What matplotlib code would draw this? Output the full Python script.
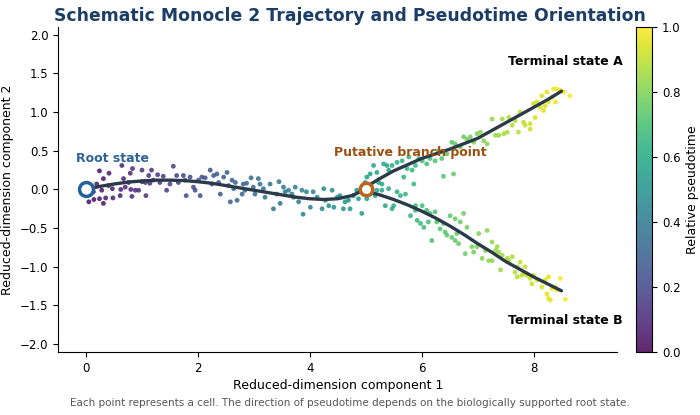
import numpy as np
import matplotlib.pyplot as plt

# cells along the trunk: (component 1, component 2, pseudotime)
trunk_cells = [
    (0.24, 0.24, 0.05), (0.41, 0.21, 0.06), (0.31, 0.14, 0.05), (0.19, 0.07, 0.04),
    (0.13, -0.03, 0.03), (0.28, -0.01, 0.05), (0.14, -0.13, 0.03), (0.24, -0.12, 0.05),
    (0.05, -0.16, 0.03), (0.31, -0.18, 0.05), (0.35, -0.11, 0.06), (0.48, -0.11, 0.07),
    (0.47, 0.01, 0.07), (0.64, 0.31, 0.09), (0.79, 0.21, 0.10), (0.83, 0.27, 0.11),
    (0.67, 0.14, 0.09), (0.76, 0.09, 0.10), (0.62, 0.00, 0.09), (0.70, 0.03, 0.09),
    (0.80, 0.00, 0.10), (0.88, -0.01, 0.11), (0.94, -0.01, 0.12), (0.82, -0.09, 0.11),
    (1.00, 0.25, 0.13), (1.12, 0.18, 0.14), (1.17, 0.25, 0.14), (1.06, 0.09, 0.13),
    (1.14, 0.08, 0.14), (1.07, -0.08, 0.13), (1.28, 0.19, 0.15), (1.32, 0.09, 0.16),
    (1.38, 0.17, 0.16), (1.44, -0.01, 0.17), (1.50, 0.07, 0.18), (1.56, 0.30, 0.18),
    (1.62, 0.18, 0.19), (1.65, 0.09, 0.19), (1.74, 0.18, 0.20), (1.77, 0.12, 0.21),
    (1.79, -0.08, 0.21), (1.86, 0.16, 0.22), (1.92, 0.03, 0.22), (1.95, -0.01, 0.22),
    (2.01, 0.12, 0.23), (2.07, 0.16, 0.24), (2.13, 0.15, 0.24), (2.04, -0.08, 0.23),
    (2.22, 0.25, 0.25), (2.28, 0.18, 0.26), (2.34, 0.20, 0.27), (2.25, 0.07, 0.26),
    (2.37, 0.09, 0.27), (2.40, -0.06, 0.27), (2.46, 0.16, 0.28), (2.52, 0.22, 0.28),
    (2.55, 0.05, 0.29), (2.58, -0.16, 0.29), (0.61, -0.08, 0.08), (1.20, 0.12, 0.15),
    (1.00, 0.10, 0.13), (0.40, 0.05, 0.06),
    (2.61, 0.12, 0.29), (2.67, 0.09, 0.30), (2.64, 0.01, 0.30), (2.70, -0.14, 0.30),
    (2.81, 0.07, 0.32), (2.84, -0.01, 0.32), (2.87, 0.08, 0.32), (2.79, -0.06, 0.31),
    (2.99, 0.03, 0.33), (3.02, -0.06, 0.34), (3.11, 0.07, 0.35), (3.17, 0.01, 0.35),
    (3.20, -0.10, 0.36), (3.29, 0.07, 0.37), (3.35, -0.25, 0.37), (3.41, -0.06, 0.38),
    (3.47, -0.18, 0.38), (3.53, 0.03, 0.39), (3.56, -0.03, 0.39), (3.62, -0.01, 0.40),
    (3.68, -0.06, 0.41), (3.71, -0.10, 0.41), (3.74, 0.03, 0.41), (3.80, -0.16, 0.42),
    (3.86, -0.01, 0.43), (3.88, -0.32, 0.43), (3.94, -0.03, 0.43), (4.01, -0.23, 0.44),
    (4.06, -0.03, 0.45), (4.13, -0.10, 0.45), (4.22, -0.25, 0.46), (4.25, 0.01, 0.47),
    (4.28, -0.14, 0.47), (4.34, -0.21, 0.48), (4.40, -0.01, 0.48), (4.43, -0.23, 0.49),
    (4.49, -0.10, 0.49), (4.54, -0.08, 0.50), (4.60, -0.25, 0.50), (4.63, -0.16, 0.51),
    (4.69, -0.14, 0.51), (4.72, -0.25, 0.52), (4.78, -0.08, 0.52), (4.84, -0.01, 0.53),
    (4.87, -0.12, 0.53), (4.93, -0.31, 0.54), (3.08, 0.14, 0.34), (3.45, 0.10, 0.38),
    (2.95, 0.15, 0.33),
]

# cells on the upper branch (towards terminal state A)
branch_a_cells = [
    (5.02, 0.16, 0.55), (5.08, 0.20, 0.56), (5.14, 0.31, 0.57), (5.20, 0.22, 0.58),
    (5.23, 0.09, 0.58), (5.29, 0.07, 0.59), (5.32, 0.33, 0.59), (5.38, 0.31, 0.60),
    (4.99, 0.09, 0.55), (5.08, 0.03, 0.56), (5.41, 0.25, 0.60), (5.47, 0.31, 0.61),
    (5.56, 0.35, 0.62), (5.65, 0.37, 0.63), (5.68, 0.16, 0.64), (5.74, 0.27, 0.64),
    (5.77, 0.42, 0.65), (5.83, 0.25, 0.65), (5.86, 0.07, 0.66), (5.89, 0.31, 0.66),
    (5.95, 0.40, 0.67), (6.01, 0.37, 0.68), (6.09, 0.33, 0.69), (6.15, 0.40, 0.69),
    (6.24, 0.37, 0.71), (6.30, 0.50, 0.71), (6.36, 0.40, 0.72), (6.39, 0.17, 0.72),
    (6.45, 0.46, 0.73), (6.54, 0.61, 0.74), (6.57, 0.20, 0.75), (6.60, 0.59, 0.75),
    (6.69, 0.55, 0.76), (6.75, 0.68, 0.77), (6.81, 0.65, 0.78), (6.87, 0.68, 0.78),
    (6.93, 0.61, 0.79), (6.99, 0.72, 0.80), (7.05, 0.74, 0.81), (7.11, 0.63, 0.81),
    (7.17, 0.59, 0.82), (7.26, 0.91, 0.83), (7.32, 0.70, 0.84), (7.38, 0.70, 0.85),
    (7.44, 0.91, 0.86), (7.47, 0.72, 0.86), (7.53, 0.74, 0.87), (7.56, 0.93, 0.87),
    (7.62, 0.83, 0.88), (7.67, 0.89, 0.88), (7.73, 0.74, 0.89), (7.76, 1.00, 0.90),
    (7.82, 0.87, 0.90), (7.85, 0.83, 0.91), (7.94, 0.78, 0.92), (7.94, 0.85, 0.92),
    (8.03, 0.93, 0.93), (8.06, 1.13, 0.93), (8.12, 1.06, 0.94), (8.15, 1.21, 0.94),
    (8.18, 1.02, 0.95), (8.21, 1.08, 0.95), (8.24, 1.26, 0.96), (8.27, 1.13, 0.96),
    (8.33, 1.19, 0.97), (8.36, 1.30, 0.97), (8.39, 1.13, 0.97), (8.42, 1.30, 0.98),
    (8.48, 1.28, 0.99), (8.54, 1.26, 0.99), (8.65, 1.21, 1.00), (8.00, 1.11, 0.93),
]

# cells on the lower branch (towards terminal state B)
branch_b_cells = [
    (5.20, -0.01, 0.58), (5.35, -0.21, 0.59), (5.29, -0.01, 0.59), (5.41, 0.01, 0.60),
    (5.56, -0.03, 0.62), (5.71, -0.06, 0.64), (5.08, -0.06, 0.56), (5.02, -0.12, 0.55),
    (5.17, -0.08, 0.57), (5.47, -0.25, 0.61), (5.50, -0.21, 0.61), (5.62, -0.08, 0.63),
    (5.80, -0.34, 0.65), (5.89, -0.21, 0.66), (5.89, -0.27, 0.66), (5.92, -0.40, 0.67),
    (5.98, -0.44, 0.67), (6.01, -0.21, 0.68), (6.04, -0.49, 0.68), (6.09, -0.27, 0.69),
    (6.12, -0.42, 0.69), (6.15, -0.31, 0.69), (6.18, -0.66, 0.70), (6.24, -0.29, 0.71),
    (6.27, -0.42, 0.71), (6.33, -0.51, 0.72), (6.39, -0.44, 0.72), (6.42, -0.55, 0.73),
    (6.45, -0.59, 0.73), (6.51, -0.34, 0.74), (6.54, -0.62, 0.74), (6.60, -0.38, 0.75),
    (6.60, -0.66, 0.75), (6.63, -0.57, 0.75), (6.66, -0.70, 0.76), (6.69, -0.42, 0.76),
    (6.75, -0.31, 0.77), (6.78, -0.83, 0.77), (6.81, -0.49, 0.78), (6.90, -0.74, 0.79),
    (6.93, -0.81, 0.79), (6.99, -0.74, 0.80), (7.02, -0.57, 0.80), (7.08, -0.89, 0.81),
    (7.14, -0.79, 0.82), (7.17, -0.53, 0.82), (7.20, -0.92, 0.83), (7.26, -0.68, 0.83),
    (7.26, -0.92, 0.83), (7.32, -0.79, 0.84), (7.35, -0.74, 0.84), (7.38, -0.81, 0.85),
    (7.41, -1.04, 0.85), (7.44, -0.85, 0.86), (7.53, -0.89, 0.87), (7.56, -0.92, 0.87),
    (7.62, -0.87, 0.88), (7.67, -1.07, 0.88), (7.71, -1.13, 0.89), (7.76, -0.94, 0.90),
    (7.79, -1.11, 0.90), (7.82, -1.09, 0.90), (7.85, -1.00, 0.91), (7.88, -1.11, 0.91),
    (7.94, -1.15, 0.92), (7.97, -1.22, 0.92), (8.00, -1.11, 0.93), (8.06, -1.17, 0.93),
    (8.15, -1.26, 0.94), (8.21, -1.17, 0.95), (8.24, -1.35, 0.96), (8.27, -1.13, 0.96),
    (8.27, -1.41, 0.96), (8.30, -1.43, 0.96), (8.33, -1.28, 0.97), (8.39, -1.26, 0.97),
    (8.42, -1.30, 0.98), (8.48, -1.15, 0.99), (8.57, -1.42, 1.00), (7.71, -1.00, 0.89),
]

# principal graph
trunk_x = [0.0, 0.25, 0.5, 0.75, 1.0, 1.25, 1.5, 1.75, 2.0, 2.25, 2.5, 2.75,
           3.0, 3.25, 3.5, 3.75, 4.0, 4.25, 4.5, 4.75, 5.0]
trunk_y = [0.0, 0.04, 0.07, 0.095, 0.11, 0.12, 0.12, 0.115, 0.10, 0.08, 0.05, 0.02,
           -0.01, -0.04, -0.07, -0.10, -0.12, -0.13, -0.12, -0.08, 0.0]
branch_a_x = [5.0, 5.25, 5.5, 5.75, 6.0, 6.25, 6.5, 6.75, 7.0, 7.25, 7.5, 7.75, 8.0, 8.25, 8.5]
branch_a_y = [0.03, 0.14, 0.24, 0.32, 0.40, 0.46, 0.52, 0.59, 0.66, 0.76, 0.86, 0.96, 1.06, 1.16, 1.27]
branch_b_x = [5.0, 5.25, 5.5, 5.75, 6.0, 6.25, 6.5, 6.75, 7.0, 7.25, 7.5, 7.75, 8.0, 8.25, 8.5]
branch_b_y = [-0.02, -0.07, -0.13, -0.20, -0.28, -0.37, -0.47, -0.58, -0.70, -0.81, -0.93, -1.03, -1.13, -1.22, -1.31]

root_xy = (0.0, 0.0)
branch_xy = (5.0, 0.0)

cells = np.array(trunk_cells + branch_a_cells + branch_b_cells)

fig = plt.figure(figsize=(7, 4.15), dpi=100)
ax = fig.add_axes([0.083, 0.152, 0.799, 0.783])
cax = fig.add_axes([0.909, 0.152, 0.023, 0.783])

sc = ax.scatter(cells[:, 0], cells[:, 1], c=cells[:, 2], cmap="viridis",
                vmin=0, vmax=1, s=12, alpha=0.85, linewidths=0, zorder=2)

line_col = "#2b3a48"
for xs, ys in [(trunk_x, trunk_y), (branch_a_x, branch_a_y), (branch_b_x, branch_b_y)]:
    ax.plot(xs, ys, color=line_col, lw=2.4, solid_capstyle="round", zorder=3)

ax.plot(*root_xy, "o", ms=10, mfc="white", mec="#22609a", mew=2.5, zorder=4)
ax.plot(*branch_xy, "o", ms=9, mfc="white", mec="#b8651b", mew=2.5, zorder=4)

ax.text(0.47, 0.40, "Root state", color="#2c6399", fontsize=9, fontweight="bold",
        ha="center", va="center")
ax.text(5.8, 0.48, "Putative branch point", color="#9c4f0e", fontsize=9,
        fontweight="bold", ha="center", va="center")
ax.text(8.57, 1.65, "Terminal state A", color="black", fontsize=9,
        fontweight="bold", ha="center", va="center")
ax.text(8.57, -1.69, "Terminal state B", color="black", fontsize=9,
        fontweight="bold", ha="center", va="center")

ax.set_xlim(-0.5, 9.5)
ax.set_ylim(-2.1, 2.1)
ax.set_xticks([0, 2, 4, 6, 8])
ax.set_yticks(np.arange(-2.0, 2.01, 0.5))
ax.tick_params(labelsize=8.5)
ax.spines["top"].set_visible(False)
ax.spines["right"].set_visible(False)
ax.set_xlabel("Reduced-dimension component 1", fontsize=9, labelpad=3)
ax.set_ylabel("Reduced-dimension component 2", fontsize=9)

ax.set_title("Schematic Monocle 2 Trajectory and Pseudotime Orientation",
             fontsize=12.4, fontweight="bold", color="#1c3d66", x=0.522, pad=4)

cb = fig.colorbar(sc, cax=cax)
cb.set_label("Relative pseudotime", fontsize=9)
cb.ax.tick_params(labelsize=8.5)
cb.outline.set_linewidth(0.8)

fig.text(0.5, 0.022, "Each point represents a cell. The direction of pseudotime depends on "
         "the biologically supported root state.", ha="center", fontsize=7.5, color="#555555")

fig.savefig("out.png", dpi=100)
